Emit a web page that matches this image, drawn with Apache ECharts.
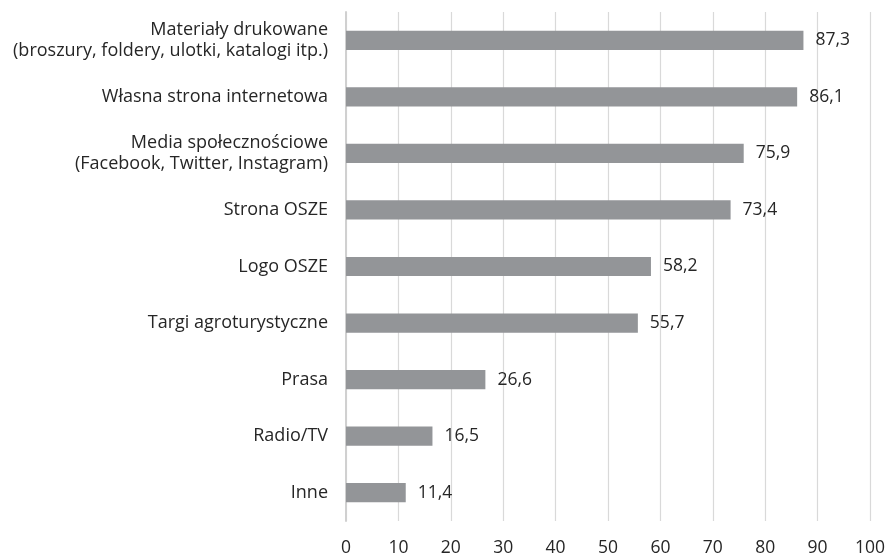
<!DOCTYPE html>
<html><head><meta charset="utf-8">
<script src="https://cdn.jsdelivr.net/npm/echarts@6/dist/echarts.min.js"></script>
<style>html,body{margin:0;padding:0;background:#fff}#c{width:888px;height:557px}</style>
</head><body><div id="c"></div>
<script>
const categories = [
  "Materiały drukowane\n(broszury, foldery, ulotki, katalogi itp.)",
  "Własna strona internetowa",
  "Media społecznościowe\n(Facebook, Twitter, Instagram)",
  "Strona OSZE",
  "Logo OSZE",
  "Targi agroturystyczne",
  "Prasa",
  "Radio/TV",
  "Inne"
];
const values = [87.3, 86.1, 75.9, 73.4, 58.2, 55.7, 26.6, 16.5, 11.4];
const xTicks = [0, 10, 20, 30, 40, 50, 60, 70, 80, 90, 100];

const chart = echarts.init(document.getElementById('c'));
const font = "'Open Sans', sans-serif";
chart.setOption({
  animation: false,
  grid: {left: 346, right: 16, top: 12, bottom: 34, containLabel: false},
  xAxis: {
    type: 'value', min: xTicks[0], max: xTicks[xTicks.length-1], interval: 10,
    axisLine: {show: false}, axisTick: {show: false},
    splitLine: {show: true, lineStyle: {color: '#d9d9d9', width: 1.2}},
    axisLabel: {color: '#262626', fontSize: 17.5, fontFamily: font, margin: 18}
  },
  yAxis: {
    type: 'category', data: categories, inverse: true,
    axisLine: {show: true, lineStyle: {color: '#d0d0d0', width: 2}},
    axisTick: {show: false},
    axisLabel: {color: '#262626', fontSize: 18, fontFamily: font, margin: 18, lineHeight: 21, align: 'right'}
  },
  series: [{
    type: 'bar', data: values, barCategoryGap: '66%',
    itemStyle: {color: '#939598'},
    label: {show: true, position: 'right', distance: 12, color: '#262626', fontSize: 17.5, fontFamily: font,
      formatter: p => String(p.value.toFixed(1)).replace('.', ',')}
  }]
});
</script></body></html>
